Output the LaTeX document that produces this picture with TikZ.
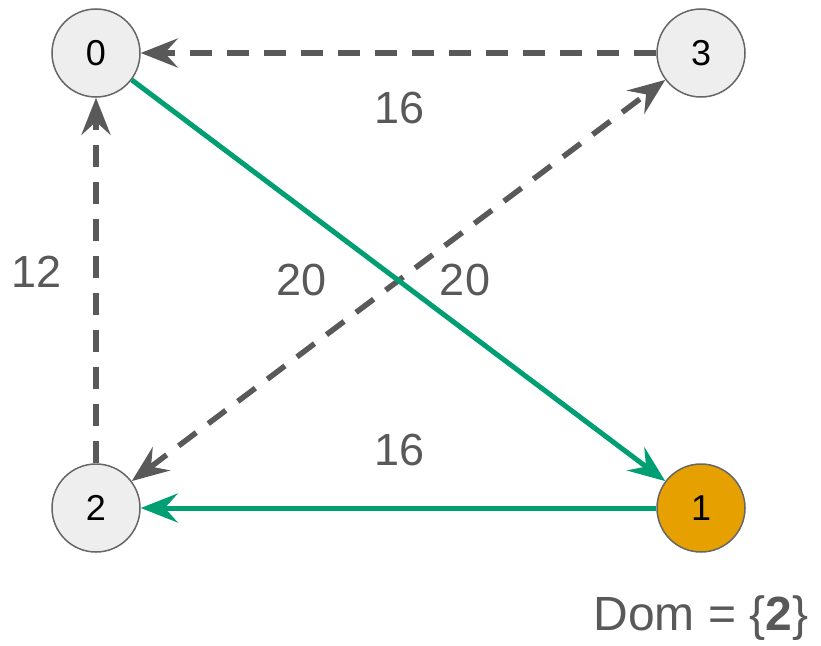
\documentclass[tikz,border=0pt]{standalone}
\usepackage{fontspec}
\setmainfont{Liberation Sans}
\usetikzlibrary{arrows.meta}
\definecolor{vfill}{HTML}{EEEEEE}
\definecolor{vline}{HTML}{666666}
\definecolor{ecol}{HTML}{595959}
\definecolor{tcol}{HTML}{009E73}
\definecolor{dcol}{HTML}{E6A000}
\tikzset{
  vert/.style={circle,draw=vline,line width=1.5pt,fill=vfill,minimum size=88pt,inner sep=0pt,
    font=\fontsize{36}{40}\selectfont},
  wlab/.style={text=ecol,font=\fontsize{45}{48}\selectfont},
  tip/.style={-{Stealth[length=37pt,width=29pt,inset=13pt]}},
  dedge/.style={draw=ecol,line width=5.5pt,dash pattern=on 22pt off 15pt},
  tedge/.style={draw=tcol,line width=5pt},
}
\begin{document}
\begin{tikzpicture}[x=1pt,y=-1pt]
  \useasboundingbox (0,0) rectangle (821,645);
  \node[vert] (v0) at (96,53) {0};
  \node[vert] (v3) at (701,53) {3};
  \node[vert] (v2) at (96,508) {2};
  \node[vert,fill=dcol] (v1) at (701,508) {1};
  % grey edges
  \draw[dedge,tip] (v3) -- (v0);
  \draw[dedge,tip] (v2) -- (v0);
  \draw[dedge,{Stealth[length=37pt,width=29pt,inset=13pt]}-{Stealth[length=37pt,width=29pt,inset=13pt]}] (v2) -- (v3);
  % tree edges
  \draw[tedge,tip] (v0) -- (v1);
  \draw[tedge,tip] (v1) -- (v2);
  % weights
  \node[wlab] (w30) at (400,108) {16};
  \node[wlab] (w20) at (37,272) {12};
  \node[wlab] (w23) at (302,280) {20};
  \node[wlab] (w01) at (465,280) {20};
  \node[wlab] (w12) at (400,450) {16};
  \node[wlab,font=\fontsize{48}{52}\selectfont] (dom) at (701,618) {Dom = \{\textbf{2}\}};
\end{tikzpicture}
\end{document}
